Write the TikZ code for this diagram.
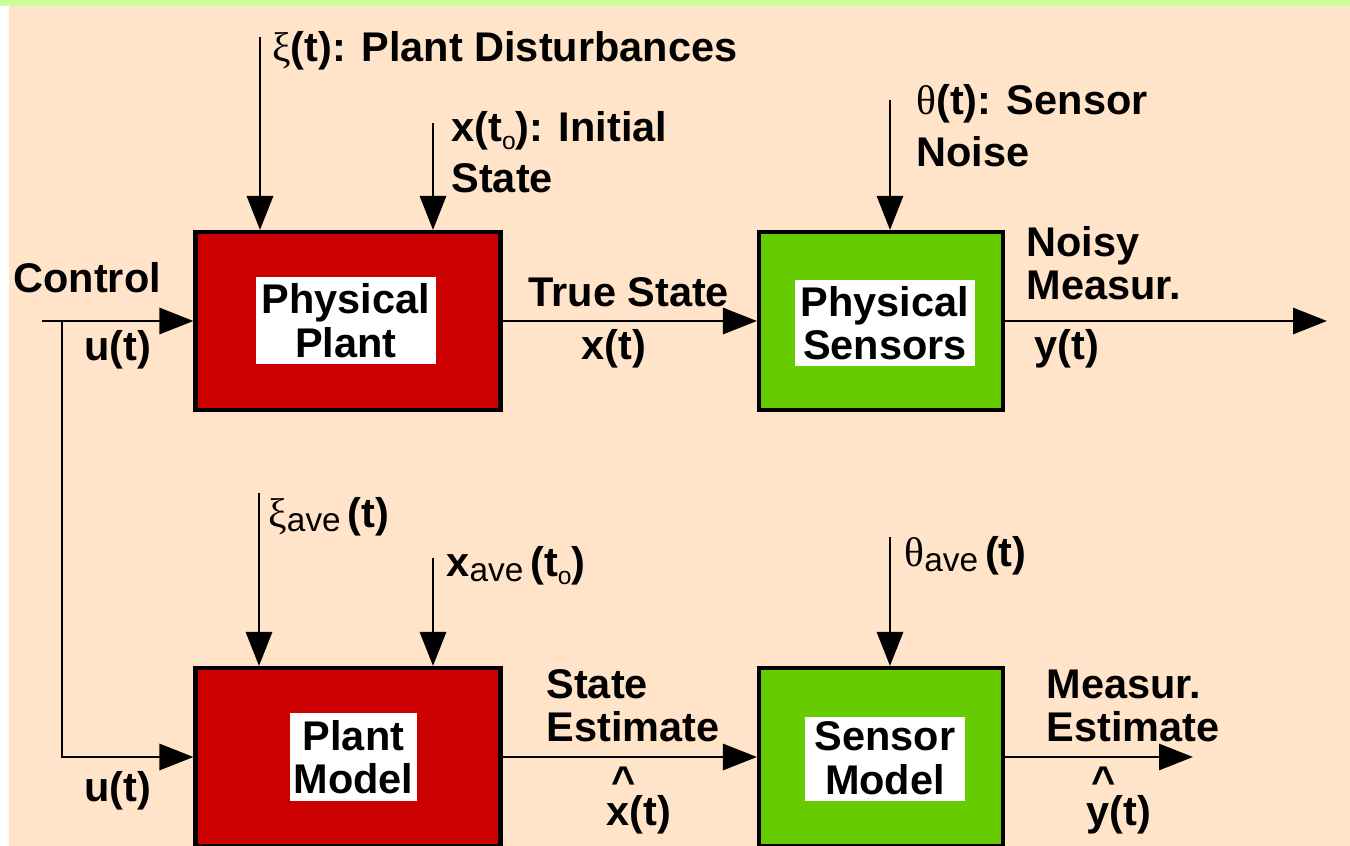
\documentclass[tikz,border=0pt]{standalone}
\usepackage{fontspec}
\setmainfont{Liberation Sans}
\newfontfamily\greekfont{Liberation Serif}
\usetikzlibrary{arrows.meta, positioning}

\definecolor{peach}{HTML}{FFE4C9}
\definecolor{topgreen}{HTML}{CCFF99}
\definecolor{plantred}{HTML}{CC0000}
\definecolor{sensgreen}{HTML}{66CC00}

\newcommand{\avesub}{\raisebox{-0.12em}{\mdseries\fontsize{9.5pt}{10pt}\selectfont ave}\,}
\newcommand{\osub}{\raisebox{-0.18em}{\mdseries\fontsize{7pt}{7pt}\selectfont o}}
\newcommand{\gk}[1]{{\greekfont\mdseries #1}}
\newcommand{\hatlbl}[1]{\makebox[0pt][l]{\raisebox{0.72em}{\hspace{0.12em}\textasciicircum}}#1(t)}

\begin{document}
\begin{tikzpicture}[>={Triangle[length=3.4mm, width=2.6mm]}, line width=0.85pt,
  txt/.style={font=\fontsize{11.8pt}{12.4pt}\selectfont\bfseries},
  block/.style={draw=black, line width=1.15pt, minimum width=3.05cm,
                minimum height=1.78cm, inner sep=0pt},
  plantblock/.style={block, fill=plantred},
  sensblock/.style={block, fill=sensgreen, minimum width=2.44cm},
  blocklbl/.style={txt, fill=white, align=center, inner sep=0pt},
  sig/.style={txt, anchor=base west, align=left, inner sep=0pt}]

% background
\useasboundingbox (0,0) rectangle (13.5,-8.46);
\fill[white] (0,0) rectangle (13.5,-8.46);
\fill[topgreen] (0,0) rectangle (13.5,-0.06);
\fill[peach] (0.09,-0.06) rectangle (13.5,-8.46);

% blocks
\node[plantblock] (plant)  at (3.48,-3.21) {};
\node[sensblock]  (sens)   at (8.81,-3.21) {};
\node[plantblock] (model)  at (3.48,-7.57) {};
\node[sensblock]  (smodel) at (8.81,-7.57) {};

\node[blocklbl, minimum width=1.80cm, minimum height=0.87cm]
  (plantlbl) at (3.46,-3.205) {Physical\\Plant};
\node[blocklbl, minimum width=1.80cm, minimum height=0.86cm]
  (senslbl) at (8.85,-3.23) {Physical\\Sensors};
\node[blocklbl, minimum width=1.27cm, minimum height=0.88cm]
  (modellbl) at (3.535,-7.57) {Plant\\Model};
\node[blocklbl, minimum width=1.60cm, minimum height=0.84cm]
  (smodellbl) at (8.85,-7.585) {Sensor\\Model};

% free ends
\coordinate (cin)   at (0.42,-3.21);
\coordinate (cbr)   at (0.62,-3.21);
\coordinate (yout)  at (13.27,-3.21);
\coordinate (yhat)  at (11.93,-7.57);
\coordinate (xiin)  at (2.60,-0.37);
\coordinate (x0in)  at (4.33,-1.23);
\coordinate (thin)  at (8.90,-1.00);
\coordinate (xiave) at (2.59,-4.93);
\coordinate (x0ave) at (4.33,-5.58);
\coordinate (thave) at (8.90,-5.37);

% connectors
\draw[->] (cin) -- (plant.west);
\draw[->] (cbr) |- (model.west);
\draw[->] (plant.east) -- (sens.west);
\draw[->] (sens.east) -- (yout);
\draw[->] (model.east) -- (smodel.west);
\draw[->] (smodel.east) -- (yhat);
\draw[->] (xiin) -- (xiin |- plant.north);
\draw[->] (x0in) -- (x0in |- plant.north);
\draw[->] (thin) -- (thin |- sens.north);
\draw[->] (xiave) -- (xiave |- model.north);
\draw[->] (x0ave) -- (x0ave |- model.north);
\draw[->] (thave) -- (thave |- smodel.north);

% signal labels (base = last line)
\node[sig] (xilbl) at (2.71,-0.62) {\gk{ξ}(t): Plant Disturbances};
\node[sig, font=\fontsize{11.8pt}{14.6pt}\selectfont\bfseries]
  (x0lbl) at (4.50,-1.93) {x(t\osub): Initial\\State};
\node[sig, font=\fontsize{11.8pt}{14.8pt}\selectfont\bfseries]
  (thlbl) at (9.15,-1.67) {\gk{θ}(t): Sensor\\Noise};
\node[sig] (ctrllbl) at (0.12,-2.93) {Control};
\node[sig] (ulbl)    at (0.83,-3.61) {u(t)};
\node[sig] (truelbl) at (5.27,-3.07) {True State};
\node[sig] (xlbl)    at (5.80,-3.60) {x(t)};
\node[sig] (noisylbl) at (10.25,-3.00) {Noisy\\Measur.};
\node[sig] (ylbl)    at (10.33,-3.60) {y(t)};

\node[sig] (xiavelbl) at (2.67,-5.27) {\gk{ξ}\avesub(t)};
\node[sig] (x0avelbl) at (4.45,-5.77) {x\avesub(t\osub)};
\node[sig] (thavelbl) at (9.03,-5.67) {\gk{θ}\avesub(t)};
\node[sig] (ulbltwo)  at (0.83,-8.01) {u(t)};
\node[sig] (estlbl)   at (5.45,-7.42) {State\\Estimate};
\node[sig] (xhatlbl)  at (6.05,-8.25) {\hatlbl{x}};
\node[sig] (mestlbl)  at (10.45,-7.42) {Measur.\\Estimate};
\node[sig] (yhatlbl)  at (10.85,-8.25) {\hatlbl{y}};

\end{tikzpicture}
\end{document}
